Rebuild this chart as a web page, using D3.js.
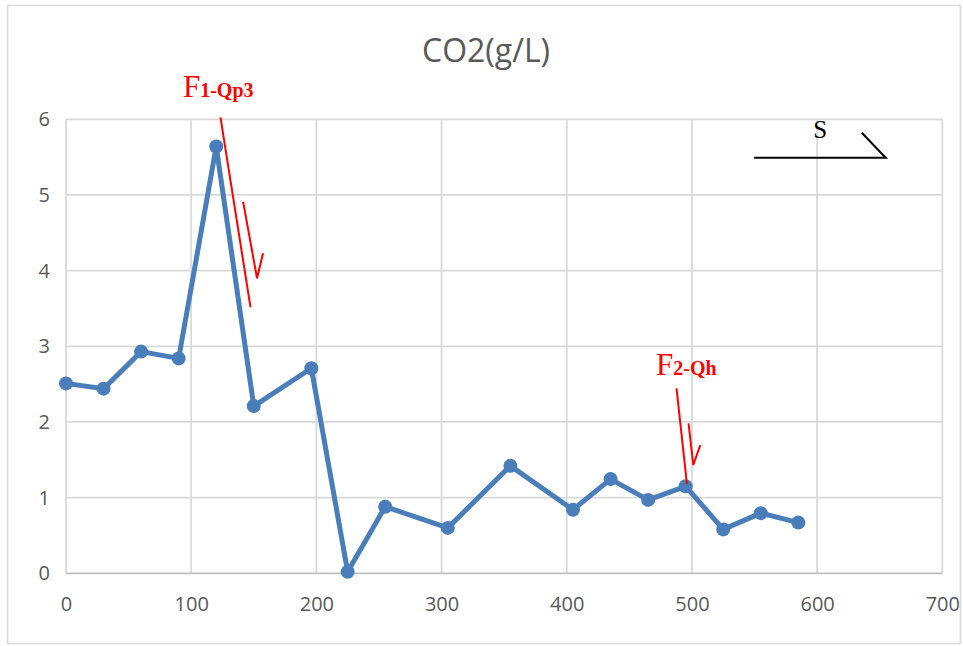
<!DOCTYPE html>
<html><head><meta charset="utf-8">
<script src="https://cdn.jsdelivr.net/npm/d3@7"></script>
<style>html,body{margin:0;padding:0;background:#fff;}svg{display:block;}</style>
</head><body>
<svg id="c" width="963" height="646"></svg>
<script>
// Data
const distance = [0,30,60,90,120,150,196,225,255,305,355,405,435,465,495,525,555,585];
const co2 = [2.51,2.44,2.93,2.84,5.64,2.21,2.71,0.02,0.88,0.60,1.42,0.84,1.245,0.97,1.15,0.58,0.795,0.67];
const xTicks = [0,100,200,300,400,500,600,700];
const yTicks = [0,1,2,3,4,5,6];
const title = "CO2(g/L)";
// Annotation geometry in data units
const fault1Long = [[123.4,6.026],[147.4,3.515]];
const fault1Arrow = [[141.5,4.911],[152.6,3.899],[157.4,4.229]];
const fault1Label = {x:93.4, y:6.30, main:"F", sub:"1-Qp3"};
const fault2Long = [[487.7,2.445],[496.0,1.180]];
const fault2Arrow = [[497.3,1.982],[501.1,1.431],[506.7,1.696]];
const fault2Label = {x:471.3, y:2.62, main:"F", sub:"2-Qh"};
const strikeLine = [[549.7,5.492],[654.8,5.492],[635.7,5.823]];
const strikeLabel = {x:602.4, y:5.749, text:"S"};

const svg = d3.select("#c");
const W = 963, H = 646;
const m = {left:66, right:W-942.3, top:119.3, bottom:H-573.3};

svg.append("rect").attr("x",7.5).attr("y",5.5).attr("width",953).attr("height",638)
  .attr("fill","#fff").attr("stroke","#d9d9d9").attr("stroke-width",1.5);

const x = d3.scaleLinear().domain([0,700]).range([m.left, W-m.right]);
const y = d3.scaleLinear().domain([0,6]).range([H-m.bottom, m.top]);

// gridlines
const g = svg.append("g");
g.selectAll(".vg").data(xTicks).join("line")
  .attr("x1",d=>x(d)).attr("x2",d=>x(d)).attr("y1",y(0)).attr("y2",y(6))
  .attr("stroke","#d9d9d9").attr("stroke-width",1.8);
g.selectAll(".hg").data(yTicks).join("line")
  .attr("x1",x(0)).attr("x2",x(700)).attr("y1",d=>y(d)).attr("y2",d=>y(d))
  .attr("stroke",d=>d===0?"#bfbfbf":"#d9d9d9").attr("stroke-width",1.8);

// axes labels via d3 axes
const fontFam = "'Open Sans', sans-serif";
const xAxis = svg.append("g").attr("transform",`translate(0,${y(0)})`)
  .call(d3.axisBottom(x).tickValues(xTicks).tickFormat(d3.format("d")).tickSize(0).tickPadding(24));
const yAxis = svg.append("g").attr("transform",`translate(${x(0)},0)`)
  .call(d3.axisLeft(y).tickValues(yTicks).tickFormat(d3.format("d")).tickSize(0).tickPadding(16));
[xAxis,yAxis].forEach(a=>{
  a.select(".domain").remove();
  a.selectAll("text").attr("fill","#595959").style("font-family",fontFam).style("font-size","20px");
});

// title
svg.append("text").attr("x",486).attr("y",62).attr("text-anchor","middle")
  .attr("fill","#595959").style("font-family",fontFam).style("font-size","32px").text(title);

// series
const line = d3.line().x((d,i)=>x(distance[i])).y(d=>y(d));
svg.append("path").datum(co2).attr("d",line).attr("fill","none")
  .attr("stroke","#4a7ebb").attr("stroke-width",5).attr("stroke-linejoin","round");
svg.selectAll(".pt").data(co2).join("circle")
  .attr("cx",(d,i)=>x(distance[i])).attr("cy",d=>y(d)).attr("r",7).attr("fill","#4a7ebb");

// annotations
const pl = d3.line().x(d=>x(d[0])).y(d=>y(d[1]));
[fault1Long,fault1Arrow,fault2Long,fault2Arrow].forEach(p=>{
  svg.append("path").attr("d",pl(p)).attr("fill","none").attr("stroke","#ff0000").attr("stroke-width",2);
});
svg.append("path").attr("d",pl(strikeLine)).attr("fill","none").attr("stroke","#000").attr("stroke-width",2);

const serif = "'Liberation Serif','Times New Roman',serif";
[fault1Label,fault2Label].forEach(l=>{
  const t = svg.append("text").attr("x",x(l.x)).attr("y",y(l.y)).attr("fill","#ff0000").style("font-family",serif);
  t.append("tspan").style("font-size","31px").text(l.main);
  t.append("tspan").style("font-size","20px").style("font-weight","bold").text(l.sub);
});
svg.append("text").attr("x",x(strikeLabel.x)).attr("y",y(strikeLabel.y)).attr("text-anchor","middle")
  .attr("fill","#000").style("font-family",serif).style("font-size","25px").text(strikeLabel.text);
</script>
</body></html>
